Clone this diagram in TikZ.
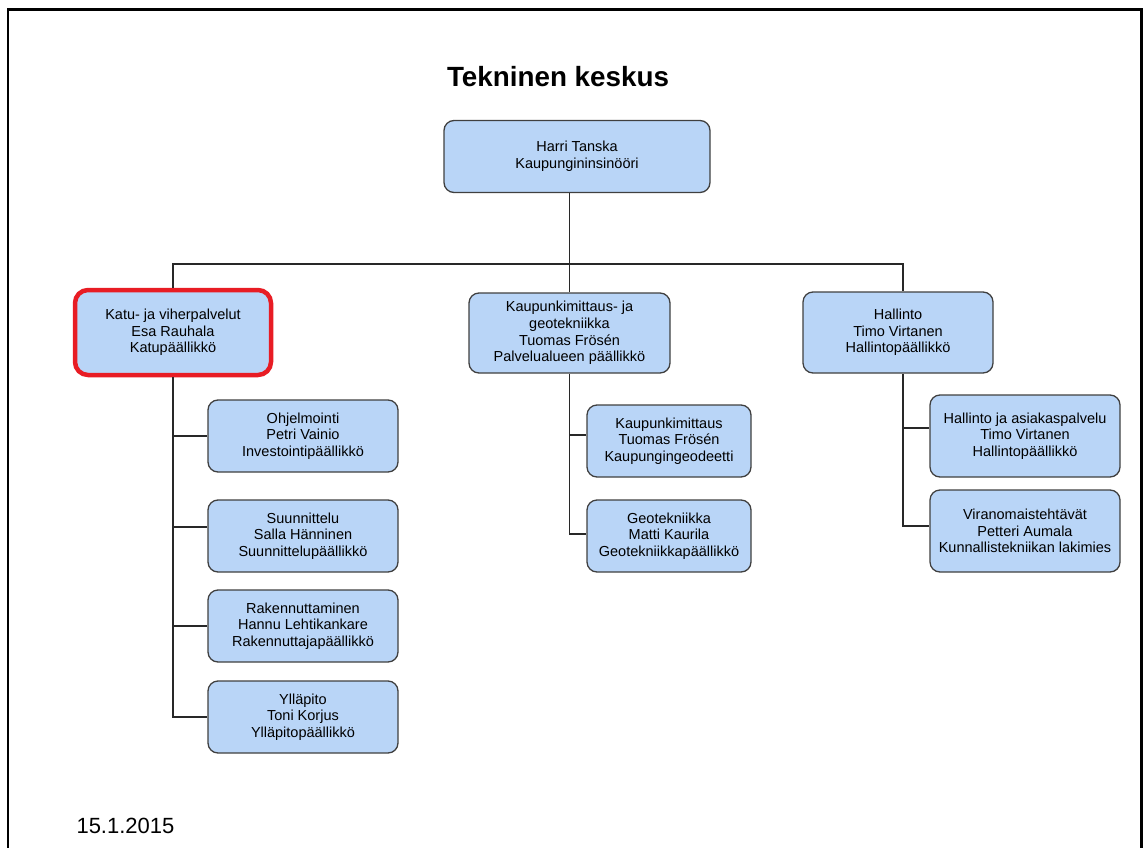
\documentclass[tikz,border=0pt]{standalone}
\usepackage{fontspec}
\setmainfont{Liberation Sans}
\definecolor{boxfill}{RGB}{185,213,247}
\definecolor{boxline}{RGB}{64,64,64}
\definecolor{wireline}{RGB}{40,40,40}
\definecolor{markred}{RGB}{232,28,36}
\begin{document}
\begin{tikzpicture}[x=1pt,y=-1pt,
  orgbox/.style={draw=boxline, line width=1.3pt, fill=boxfill, rounded corners=10pt,
    align=center, inner sep=2pt, text=black,
    font=\fontsize{14.5}{16.7}\selectfont},
  wire/.style={draw=wireline, line width=1.2pt}]
\useasboundingbox (0,0) rectangle (1145,848);

% page frame (open at the bottom edge)
\draw[line width=2.2pt, black] (8,860) -- (8,9.5) -- (1141.5,9.5) -- (1141.5,860);

% title and date
\node (title) at (558,77) {\fontsize{27.8}{32}\selectfont\bfseries Tekninen keskus};
\node[anchor=west] (date) at (73,826) {\fontsize{22}{26}\selectfont 15.1.2015};

% top level
\node[orgbox, minimum width=266pt, minimum height=72pt] (top) at (577,156.5)
  {Harri Tanska\\Kaupungininsinööri};

% second level
\node[orgbox, draw=markred, line width=4.5pt, rounded corners=13pt, minimum width=196pt, minimum height=85pt] (katu) at (173,332.5)
  {Katu- ja viherpalvelut\\Esa Rauhala\\Katupäällikkö};
\node[orgbox, minimum width=201pt, minimum height=80pt] (kmg) at (569.5,333)
  {Kaupunkimittaus- ja\\geotekniikka\\Tuomas Frösén\\Palvelualueen päällikkö};
\node[orgbox, minimum width=190pt, minimum height=81pt] (hal) at (898,332.5)
  {Hallinto\\Timo Virtanen\\Hallintopäällikkö};

% units under Katu- ja viherpalvelut
\node[orgbox, minimum width=190pt, minimum height=72pt] (ohj) at (303,436)
  {Ohjelmointi\\Petri Vainio\\Investointipäällikkö};
\node[orgbox, minimum width=190pt, minimum height=72pt] (suu) at (303,536)
  {Suunnittelu\\Salla Hänninen\\Suunnittelupäällikkö};
\node[orgbox, minimum width=190pt, minimum height=72pt] (rak) at (303,626)
  {Rakennuttaminen\\Hannu Lehtikankare\\Rakennuttajapäällikkö};
\node[orgbox, minimum width=190pt, minimum height=72pt] (yll) at (303,717)
  {Ylläpito\\Toni Korjus\\Ylläpitopäällikkö};

% units under Kaupunkimittaus- ja geotekniikka
\node[orgbox, minimum width=164pt, minimum height=72pt] (kmit) at (669,441)
  {Kaupunkimittaus\\Tuomas Frösén\\Kaupungingeodeetti};
\node[orgbox, minimum width=164pt, minimum height=72pt] (geo) at (669,536)
  {Geotekniikka\\Matti Kaurila\\Geotekniikkapäällikkö};

% units under Hallinto
\node[orgbox, minimum width=190pt, minimum height=82pt] (hja) at (1025,436)
  {Hallinto ja asiakaspalvelu\\Timo Virtanen\\Hallintopäällikkö};
\node[orgbox, minimum width=190pt, minimum height=82pt] (vir) at (1025,531)
  {Viranomaistehtävät\\Petteri Aumala\\Kunnallistekniikan lakimies};

% connectors
\coordinate (bus) at (569.5,264);
\coordinate (haltop) at ([xshift=5pt]hal.north);
\coordinate (halbot) at ([xshift=5pt]hal.south);
\draw[wire] (kmg.north |- top.south) -- (kmg.north);
\draw[wire] (katu.north) |- (bus) -| (haltop);

\draw[wire] (katu.south) |- (yll.west);
\draw[wire] (katu.south |- ohj.west) -- (ohj.west);
\draw[wire] ([yshift=9pt]suu.west -| katu.south) -- ([yshift=9pt]suu.west);
\draw[wire] (katu.south |- rak.west) -- (rak.west);

\draw[wire] (kmg.south) |- ([yshift=2pt]geo.west);
\draw[wire] ([yshift=6pt]kmit.west -| kmg.south) -- ([yshift=6pt]kmit.west);

\draw[wire] (halbot) |- ([yshift=5pt]vir.west);
\draw[wire] ([yshift=8pt]hja.west -| halbot) -- ([yshift=8pt]hja.west);
\end{tikzpicture}
\end{document}
